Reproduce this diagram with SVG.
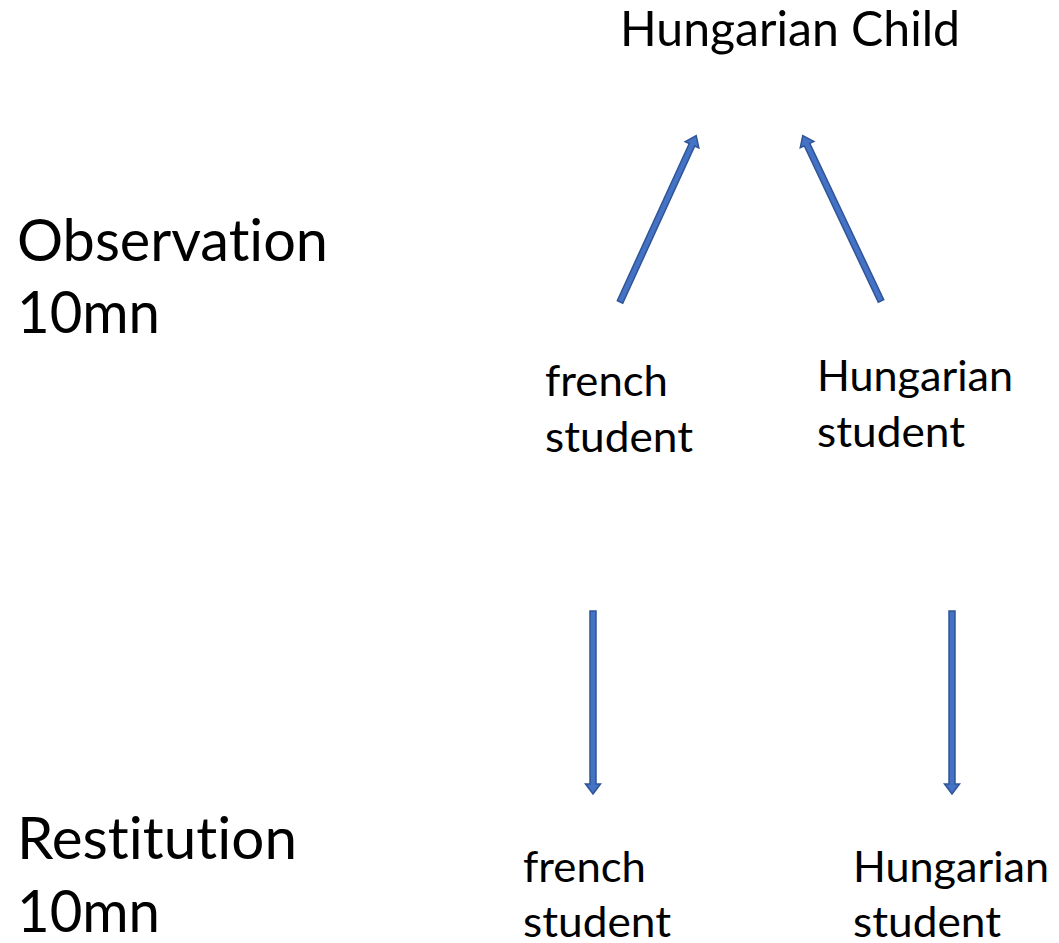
<svg xmlns="http://www.w3.org/2000/svg" xmlns:xlink="http://www.w3.org/1999/xlink" width="1059" height="943" viewBox="0 0 1059 943">
<style>
text{font-family:Lato,"Open Sans","Liberation Sans",sans-serif;fill:#000;font-variant-ligatures:none;font-feature-settings:"liga" 0,"clig" 0}
.big{font-size:58px}
.title{font-size:48px}
.small{font-size:43px}
.arrow{fill:#4472C4;stroke:#2F5597;stroke-width:1.5;stroke-linejoin:miter}
</style>
<defs>
<path id="arr" class="arrow" d="M0,-3 H173 V-7.5 L183,0 L173,7.5 V3 H0 Z"/>
</defs>
<rect width="1059" height="943" fill="#fff"/>
<g id="connectors">
<use xlink:href="#arr" href="#arr" transform="translate(620,302) rotate(-65.4)"/>
<use xlink:href="#arr" href="#arr" transform="translate(881,301) rotate(-115.3)"/>
<use xlink:href="#arr" href="#arr" transform="translate(593,611) rotate(90)"/>
<use xlink:href="#arr" href="#arr" transform="translate(952,611) rotate(90)"/>
</g>
<g id="hungarian-child"><text class="title" x="620" y="46" textLength="340" lengthAdjust="spacingAndGlyphs">Hungarian Child</text></g>
<g id="observation">
<text class="big" x="17" y="261" textLength="311" lengthAdjust="spacingAndGlyphs">Observation</text>
<text class="big" x="17" y="333" textLength="143" lengthAdjust="spacingAndGlyphs">10mn</text>
</g>
<g id="restitution">
<text class="big" x="17" y="859" textLength="280" lengthAdjust="spacingAndGlyphs">Restitution</text>
<text class="big" x="17" y="932" textLength="143" lengthAdjust="spacingAndGlyphs">10mn</text>
</g>
<g id="french-student-obs">
<text class="small" x="545" y="396" textLength="123" lengthAdjust="spacingAndGlyphs">french</text>
<text class="small" x="545" y="452" textLength="148" lengthAdjust="spacingAndGlyphs">student</text>
</g>
<g id="hungarian-student-obs">
<text class="small" x="817" y="391" textLength="196" lengthAdjust="spacingAndGlyphs">Hungarian</text>
<text class="small" x="817" y="447" textLength="148" lengthAdjust="spacingAndGlyphs">student</text>
</g>
<g id="french-student-res">
<text class="small" x="523" y="882" textLength="123" lengthAdjust="spacingAndGlyphs">french</text>
<text class="small" x="523" y="937" textLength="148" lengthAdjust="spacingAndGlyphs">student</text>
</g>
<g id="hungarian-student-res">
<text class="small" x="853" y="882" textLength="196" lengthAdjust="spacingAndGlyphs">Hungarian</text>
<text class="small" x="853" y="937" textLength="148" lengthAdjust="spacingAndGlyphs">student</text>
</g>
</svg>
